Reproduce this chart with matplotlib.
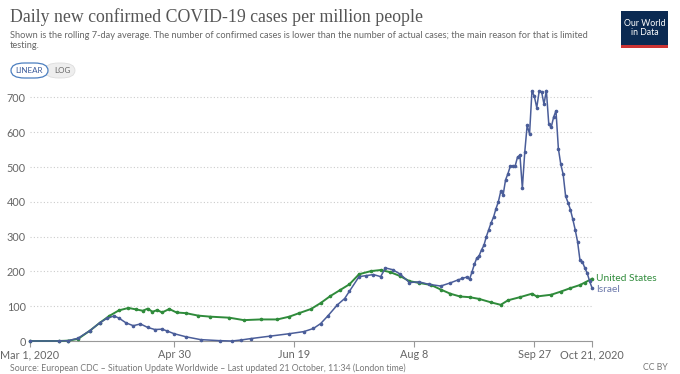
import matplotlib
matplotlib.use("Agg")
import matplotlib.pyplot as plt
from matplotlib.patches import FancyBboxPatch, Rectangle
import pandas as pd

# ---------------- data ----------------
start = "2020-03-01"
israel_days = [0, 12, 16, 20, 25, 29, 32, 35, 37, 40, 43, 46, 49, 52, 55, 57, 60, 65, 71, 79, 84, 88,
               92, 100, 108, 114, 118, 121, 124, 128, 131, 133, 137, 140, 143, 146, 148, 151, 154,
               158, 162, 166, 171, 175, 178, 180, 182, 183, 184, 185, 186, 187, 188, 189, 190, 191,
               192, 193, 194, 195, 196, 197, 198, 199, 200, 201, 202, 203, 204, 205, 206, 207, 208,
               209, 210, 211, 212, 213, 214, 215, 216, 217, 218, 219, 220, 221, 222, 223, 224, 225,
               226, 227, 228, 229, 230, 231, 232, 233, 234]
israel_vals = [0, 0, 1, 8, 30, 52, 65, 72, 66, 52, 44, 49, 39, 33, 34, 29, 21, 12, 4, 1, 0, 3,
               7, 14, 21, 27, 36, 50, 72, 104, 122, 143, 185, 188, 191, 185, 210, 205, 193,
               168, 170, 163, 158, 167, 175, 180, 184, 177, 198, 220, 238, 245, 262, 275, 300, 320,
               340, 356, 380, 400, 430, 420, 463, 481, 503, 504, 503, 529, 534, 439, 543, 620, 595,
               719, 703, 671, 718, 717, 681, 720, 624, 614, 643, 662, 553, 508, 479, 417, 398, 378,
               350, 320, 285, 232, 228, 210, 195, 172, 153]

us_days = [0, 12, 16, 20, 25, 29, 33, 37, 41, 44, 47, 49, 51, 53, 55, 58, 61, 65, 70, 75, 83, 89,
           96, 103, 108, 112, 117, 121, 125, 129, 133, 137, 142, 146, 150, 154, 158, 162, 167,
           171, 175, 179, 183, 187, 192, 196, 199, 204, 209, 211, 217, 221, 225, 229, 231, 234]
us_vals = [0, 0, 1, 6, 30, 52, 72, 88, 95, 91, 87, 93, 84, 89, 82, 92, 82, 80, 73, 70, 67, 60,
           62, 62, 70, 80, 92, 109, 129, 146, 163, 192, 201, 204, 198, 187, 172, 167, 161,
           148, 136, 128, 126, 121, 111, 104, 117, 126, 136, 128, 133, 142, 152, 161, 168, 179]

tick_dates = ["2020-03-01", "2020-04-30", "2020-06-19", "2020-08-08", "2020-09-27", "2020-10-21"]
tick_labels = ["Mar 1, 2020", "Apr 30", "Jun 19", "Aug 8", "Sep 27", "Oct 21, 2020"]
y_ticks = [0, 100, 200, 300, 400, 500, 600, 700]

# ---------------- figure ----------------
W, H = 680, 374
fig = plt.figure(figsize=(W / 100, H / 100), dpi=100)
fig.patch.set_facecolor("white")

def fx(px):
    return px / W

def fy(py):
    return 1 - py / H

x0 = pd.Timestamp(start)
isr_x = [x0 + pd.Timedelta(days=d) for d in israel_days]
us_x = [x0 + pd.Timedelta(days=d) for d in us_days]

left, right = 30, 592
ymax = 730
y0px, y700px = 341, 97.5
top_px = y0px - (y0px - y700px) * ymax / 700
ax = fig.add_axes([fx(left), fy(y0px), fx(right) - fx(left), (y0px - top_px) / H])

c_isr = "#4a5d99"
c_us = "#2f8b3b"
ax.plot(us_x, us_vals, color=c_us, lw=1.4, marker="o", ms=1.6, zorder=3, clip_on=False)
ax.plot(isr_x, israel_vals, color=c_isr, lw=1.1, marker="o", ms=1.6, zorder=4, clip_on=False)

ax.set_xlim(pd.Timestamp(tick_dates[0]), pd.Timestamp(tick_dates[-1]))
ax.set_ylim(0, ymax)
ax.set_yticks(y_ticks)
ax.set_yticklabels([str(v) for v in y_ticks])
ax.set_xticks([pd.Timestamp(d) for d in tick_dates])
ax.set_xticklabels(tick_labels)

for s in ["top", "right", "left"]:
    ax.spines[s].set_visible(False)
ax.spines["bottom"].set_color("#999999")
ax.spines["bottom"].set_linewidth(0.8)
ax.tick_params(axis="y", length=0, pad=3, labelsize=7.8, labelcolor="#666666")
ax.tick_params(axis="x", length=4, width=0.8, color="#999999", pad=2, labelsize=7.8, labelcolor="#666666")
for lab in ax.get_xticklabels() + ax.get_yticklabels():
    lab.set_family("Lato")
ax.grid(axis="y", color="#cccccc", linestyle=(0, (1, 2)), lw=0.8)
ax.set_axisbelow(True)

# line labels
ax.annotate("United States", xy=(pd.Timestamp(tick_dates[-1]), us_vals[-1]), xytext=(3, 0),
            textcoords="offset points", va="center", ha="left", fontsize=7.3,
            color=c_us, family="Lato", annotation_clip=False)
ax.annotate("Israel", xy=(pd.Timestamp(tick_dates[-1]), israel_vals[-1]), xytext=(3, -1),
            textcoords="offset points", va="center", ha="left", fontsize=7.3,
            color="#6a77aa", family="Lato", annotation_clip=False)

# ---------------- header ----------------
fig.text(fx(10), fy(17), "Daily new confirmed COVID-19 cases per million people",
         family="Liberation Serif", fontsize=12.8, color="#555555", va="center", ha="left")
fig.text(fx(10), fy(35), "Shown is the rolling 7-day average. The number of confirmed cases is lower than the number of actual cases; the main reason for that is limited",
         family="Lato", fontsize=6.65, color="#666666", va="center", ha="left")
fig.text(fx(10), fy(46), "testing.", family="Lato", fontsize=6.65, color="#666666", va="center", ha="left")

# LINEAR / LOG buttons
btn2 = FancyBboxPatch((fx(45), fy(78)), fx(75) - fx(45), (78 - 63) / H,
                      boxstyle="round,pad=0,rounding_size=0.02", transform=fig.transFigure,
                      facecolor="#eeeeee", edgecolor="#dddddd", lw=0.6)
fig.add_artist(btn2)
btn1 = FancyBboxPatch((fx(11), fy(78)), fx(48) - fx(11), (78 - 63) / H,
                      boxstyle="round,pad=0,rounding_size=0.02", transform=fig.transFigure,
                      facecolor="white", edgecolor="#4c7fc0", lw=0.9)
fig.add_artist(btn1)
fig.text(fx(29.5), fy(70.5), "LINEAR", family="Lato", fontsize=5.8, color="#3b5b9a", ha="center", va="center")
fig.text(fx(62), fy(70.5), "LOG", family="Lato", fontsize=5.8, color="#666666", ha="center", va="center")

# logo
fig.add_artist(Rectangle((fx(621), fy(45)), fx(668) - fx(621), (45 - 11) / H,
                         transform=fig.transFigure, facecolor="#0b2a52", edgecolor="none"))
fig.add_artist(Rectangle((fx(621), fy(48)), fx(668) - fx(621), 3 / H,
                         transform=fig.transFigure, facecolor="#cc3333", edgecolor="none"))
fig.text(fx(644.5), fy(28), "Our World\nin Data", family="Lato", fontsize=6.3, color="white",
         ha="center", va="center", linespacing=1.0)

# footer
fig.text(fx(10), fy(368), "Source: European CDC \u2013 Situation Update Worldwide \u2013 Last updated 21 October, 11:34 (London time)",
         family="Lato", fontsize=6.3, color="#777777", ha="left", va="center")
fig.text(fx(668), fy(368), "CC BY", family="Lato", fontsize=6.3, color="#777777", ha="right", va="center")

fig.savefig("out.png", dpi=100, facecolor="white")
